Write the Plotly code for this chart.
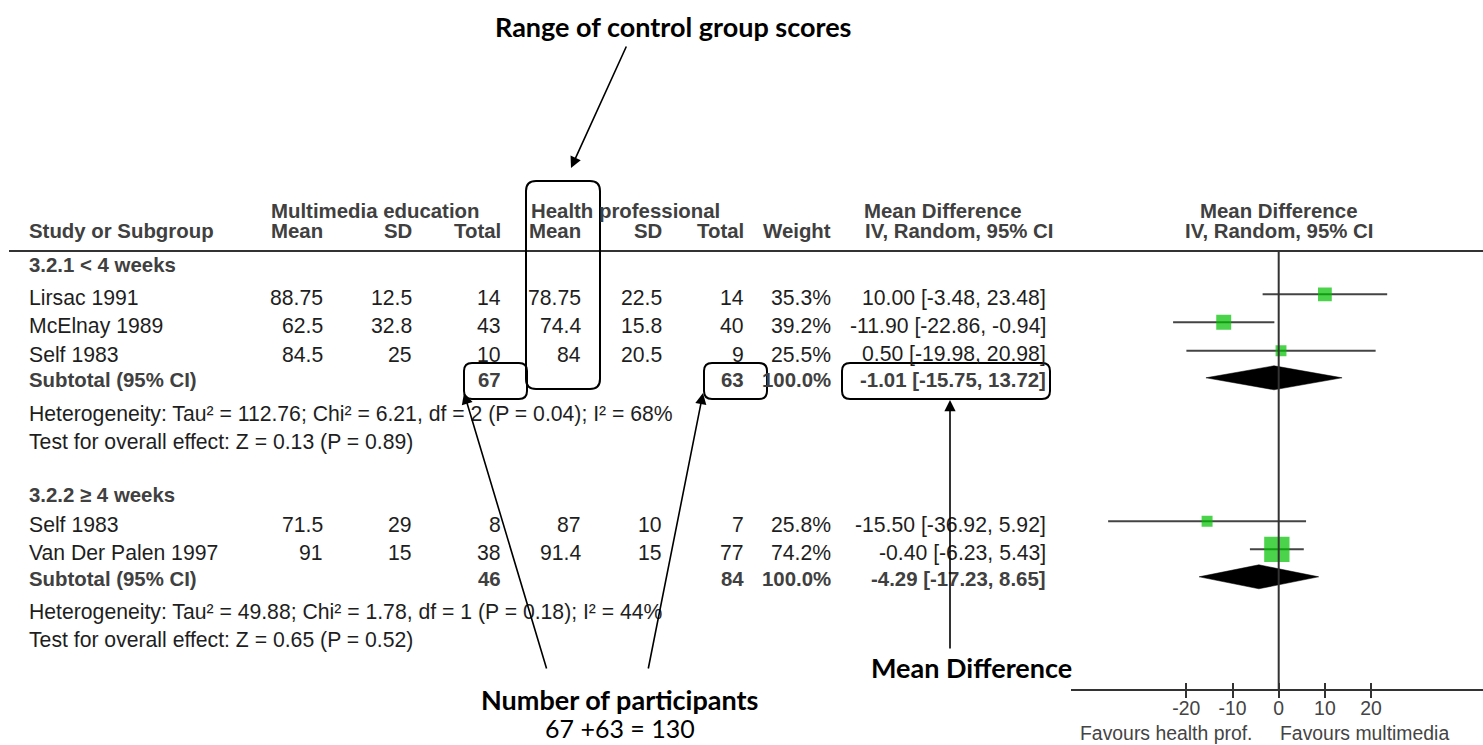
import plotly.graph_objects as go

# ---------------- data ----------------
studies = ["Lirsac 1991", "McElnay 1989", "Self 1983", "Self 1983", "Van Der Palen 1997"]
me_mean = [88.75, 62.5, 84.5, 71.5, 91]
me_sd = [12.5, 32.8, 25, 29, 15]
me_n = [14, 43, 10, 8, 38]
hp_mean = [78.75, 74.4, 84, 87, 91.4]
hp_sd = [22.5, 15.8, 20.5, 10, 15]
hp_n = [14, 40, 9, 7, 77]
weight = [35.3, 39.2, 25.5, 25.8, 74.2]
md = [10.00, -11.90, 0.50, -15.50, -0.40]
ci_lo = [-3.48, -22.86, -19.98, -36.92, -6.23]
ci_hi = [23.48, -0.94, 20.98, 5.92, 5.43]

sub_names = ["3.2.1 < 4 weeks", "3.2.2 \u2265 4 weeks"]
sub_me_n = [67, 46]
sub_hp_n = [63, 84]
sub_weight = [100.0, 100.0]
sub_md = [-1.01, -4.29]
sub_lo = [-15.75, -17.23]
sub_hi = [13.72, 8.65]
het_text = ["Heterogeneity: Tau\u00b2 = 112.76; Chi\u00b2 = 6.21, df = 2 (P = 0.04); I\u00b2 = 68%",
            "Heterogeneity: Tau\u00b2 = 49.88; Chi\u00b2 = 1.78, df = 1 (P = 0.18); I\u00b2 = 44%"]
test_text = ["Test for overall effect: Z = 0.13 (P = 0.89)",
             "Test for overall effect: Z = 0.65 (P = 0.52)"]

tick_vals = [-20, -10, 0, 10, 20]
tick_text = ["-20", "-10", "0", "10", "20"]

# ---------------- layout constants (pixels) ----------------
W, H = 1483, 745
ZERO_PX, PX_PER_UNIT = 1278.7, 4.62
X_RANGE = [-45.0, 44.2]
AXIS_Y = 690
HEADER_LINE_Y = 251
STUDY_TEXT_Y = [297.5, 325.5, 354, 524.5, 552.5]
SUB_TEXT_Y = [380, 579]
HEAD_Y = [265.5, 495]
HET_Y = [414, 612]
TEST_Y = [442, 640]
MARK_DY = -3.2
COL_X = dict(name=27, m1=325, sd1=414, n1=503, m2=583, sd2=664, n2=746, w=833, ci=1048)

REG = "Liberation Sans"
REG_SIZE = 21.2
BOLD_SIZE = 20.4
REG_COL = "#1e1e1e"
BOLD_COL = "#404040"
CALLOUT = "Lato"
CALLOUT_SIZE = 27


def PX(x):
    return x / W


def PY(y):
    return 1 - y / H


fig = go.Figure()
annotations = []
shapes = []


def txt(x, y, s, anchor="left", bold=False, size=None, color=None, family=REG, yanchor="middle"):
    annotations.append(dict(
        x=PX(x), y=PY(y), xref="paper", yref="paper", text=s, showarrow=False,
        xanchor=anchor, yanchor=yanchor,
        font=dict(family=family, size=size or (BOLD_SIZE if bold else REG_SIZE),
                  color=color or (BOLD_COL if bold else REG_COL),
                  weight="bold" if bold else "normal"),
    ))


def fmt(v):
    return f"{v:g}"


def ci_str(m, lo, hi):
    return f"{m:.2f} [{lo:.2f}, {hi:.2f}]"


# headers
txt(269, 210.5, "Multimedia education", bold=True)
txt(529, 210.5, "Health professional", bold=True)
txt(862, 210.5, "Mean Difference", bold=True)
txt(ZERO_PX, 210.5, "Mean Difference", anchor="center", bold=True)
txt(COL_X["name"], 231, "Study or Subgroup", bold=True)
for key, lab in [("m1", "Mean"), ("sd1", "SD"), ("n1", "Total"), ("m2", "Mean"),
                 ("sd2", "SD"), ("n2", "Total"), ("w", "Weight")]:
    txt(COL_X[key], 231, lab, anchor="right", bold=True)
txt(863, 231, "IV, Random, 95% CI", bold=True)
txt(ZERO_PX, 231, "IV, Random, 95% CI", anchor="center", bold=True)

shapes.append(dict(type="line", xref="paper", yref="paper", x0=PX(9), x1=1.0,
                   y0=PY(HEADER_LINE_Y), y1=PY(HEADER_LINE_Y),
                   line=dict(color="#333333", width=2)))

# study rows
groups = [[0, 1, 2], [3, 4]]
for g, idx in enumerate(groups):
    txt(COL_X["name"], HEAD_Y[g], sub_names[g], bold=True)
    for i in idx:
        y = STUDY_TEXT_Y[i]
        txt(COL_X["name"], y, studies[i])
        txt(COL_X["m1"], y, fmt(me_mean[i]), "right")
        txt(COL_X["sd1"], y, fmt(me_sd[i]), "right")
        txt(COL_X["n1"], y, str(me_n[i]), "right")
        txt(COL_X["m2"], y, fmt(hp_mean[i]), "right")
        txt(COL_X["sd2"], y, fmt(hp_sd[i]), "right")
        txt(COL_X["n2"], y, str(hp_n[i]), "right")
        txt(COL_X["w"], y, f"{weight[i]:.1f}%", "right")
        txt(COL_X["ci"], y, ci_str(md[i], ci_lo[i], ci_hi[i]), "right")
    y = SUB_TEXT_Y[g]
    txt(COL_X["name"], y, "Subtotal (95% CI)", bold=True)
    txt(COL_X["n1"], y, str(sub_me_n[g]), "right", bold=True)
    txt(COL_X["n2"], y, str(sub_hp_n[g]), "right", bold=True)
    txt(COL_X["w"], y, f"{sub_weight[g]:.1f}%", "right", bold=True)
    txt(COL_X["ci"], y, ci_str(sub_md[g], sub_lo[g], sub_hi[g]), "right", bold=True)
    txt(COL_X["name"], HET_Y[g], het_text[g])
    txt(COL_X["name"], TEST_Y[g], test_text[g])

# forest: squares with CI whiskers
mark_y = [y + MARK_DY for y in STUDY_TEXT_Y]
sizes = [3.35 + 0.296 * w for w in weight]
fig.add_trace(go.Scatter(
    x=md, y=mark_y, mode="markers",
    marker=dict(symbol="square", size=sizes, color="#00c000", line=dict(width=0)),
    error_x=dict(type="data", symmetric=False,
                 array=[h - m for h, m in zip(ci_hi, md)],
                 arrayminus=[m - l for m, l in zip(md, ci_lo)],
                 color="#444444", thickness=2, width=0),
    hoverinfo="skip", xaxis="x", yaxis="y"))

# diamonds
for g in range(2):
    yc = SUB_TEXT_Y[g] + MARK_DY + 1.0
    fig.add_trace(go.Scatter(
        x=[sub_lo[g], sub_md[g], sub_hi[g], sub_md[g], sub_lo[g]],
        y=[yc, yc - 12, yc, yc + 12, yc],
        mode="lines", fill="toself", fillcolor="black",
        line=dict(color="black", width=0.5), hoverinfo="skip",
        xaxis="x", yaxis="y"))

fig.add_trace(go.Scatter(x=[], y=[], xaxis="x2", yaxis="y", showlegend=False))

# zero line
shapes.append(dict(type="line", xref="x", yref="y", x0=0, x1=0,
                   y0=HEADER_LINE_Y, y1=AXIS_Y, line=dict(color="#333333", width=2)))

# favours labels
txt(1254, 733, "Favours health prof.", "right", size=19.4, color="#444444")
txt(1278, 733, "Favours multimedia", "left", size=19.4, color="#444444")


# rounded boxes
def rbox(x0, y0, x1, y1, r=8):
    p = (f"M {PX(x0 + r)},{PY(y0)} L {PX(x1 - r)},{PY(y0)} "
         f"Q {PX(x1)},{PY(y0)} {PX(x1)},{PY(y0 + r)} L {PX(x1)},{PY(y1 - r)} "
         f"Q {PX(x1)},{PY(y1)} {PX(x1 - r)},{PY(y1)} L {PX(x0 + r)},{PY(y1)} "
         f"Q {PX(x0)},{PY(y1)} {PX(x0)},{PY(y1 - r)} L {PX(x0)},{PY(y0 + r)} "
         f"Q {PX(x0)},{PY(y0)} {PX(x0 + r)},{PY(y0)} Z")
    shapes.append(dict(type="path", xref="paper", yref="paper", path=p,
                       line=dict(color="black", width=2), fillcolor="rgba(0,0,0,0)"))


rbox(526, 181, 600, 389, 10)
rbox(464, 363, 527, 399, 8)
rbox(704, 363, 767, 399, 8)
rbox(842, 363, 1050, 399, 8)


def arrow(tail, tip):
    annotations.append(dict(
        x=PX(tip[0]), y=PY(tip[1]), xref="paper", yref="paper", text="",
        showarrow=True, ax=tail[0] - tip[0], ay=tail[1] - tip[1],
        axref="pixel", ayref="pixel", arrowhead=2, arrowsize=1.4,
        arrowwidth=1.6, arrowcolor="black", standoff=0))


arrow((627, 45), (571, 168))
arrow((547, 670), (464, 393))
arrow((648, 670), (703, 393))
arrow((950, 650), (950, 400))

# callout text
txt(673, 26, "Range of control group scores", "center", bold=True, size=CALLOUT_SIZE,
    color="black", family=CALLOUT)
txt(479, 699, "Number of participants", "left", bold=True, size=CALLOUT_SIZE,
    color="black", family=CALLOUT)
txt(620, 745, "67 +63 = 130", "center", size=25, color="black", family=CALLOUT,
    yanchor="bottom")
txt(869, 667, "Mean Difference", "left", bold=True, size=CALLOUT_SIZE,
    color="black", family=CALLOUT)

d0 = (ZERO_PX + X_RANGE[0] * PX_PER_UNIT) / W
d1 = min(1.0, (ZERO_PX + X_RANGE[1] * PX_PER_UNIT) / W)
axis_pos = PY(AXIS_Y)

fig.update_layout(
    width=W, height=H, margin=dict(l=0, r=0, t=0, b=0),
    paper_bgcolor="white", plot_bgcolor="white", showlegend=False,
    xaxis=dict(domain=[d0, d1], range=X_RANGE, anchor="free", position=axis_pos,
               showline=True, linecolor="#333333", linewidth=2,
               ticks="outside", ticklen=7, tickwidth=2, tickcolor="#333333",
               tickvals=tick_vals, ticktext=tick_text, showgrid=False, zeroline=False,
               ticklabelstandoff=-6,
               tickfont=dict(family=REG, size=19.4, color="#444444"), fixedrange=True),
    xaxis2=dict(domain=[d0, d1], range=X_RANGE, anchor="free", position=axis_pos,
                overlaying="x", showline=False, ticks="inside", ticklen=7, tickwidth=2,
                tickcolor="#333333", tickvals=tick_vals, showticklabels=False,
                showgrid=False, zeroline=False, fixedrange=True),
    yaxis=dict(domain=[0, 1], range=[H, 0], visible=False, fixedrange=True),
    annotations=annotations, shapes=shapes,
)

fig.write_html(
    "out.html",
    config={"displayModeBar": False},
    post_script="document.body.style.margin='0px';document.body.style.overflow='hidden';",
)
